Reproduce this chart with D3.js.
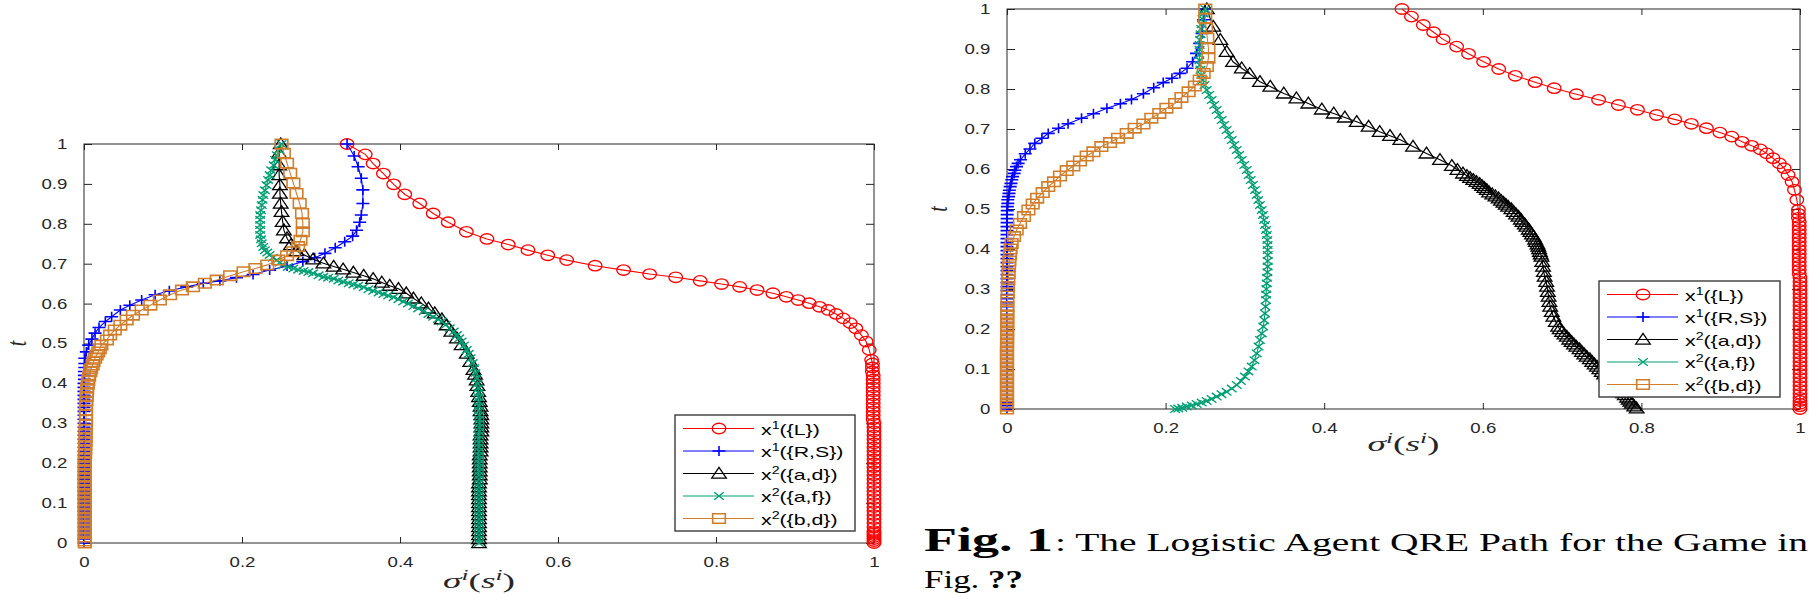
<!DOCTYPE html>
<html>
<head>
<meta charset="utf-8">
<script src="https://cdn.jsdelivr.net/npm/d3@7"></script>
<style>
  html, body { margin: 0; padding: 0; background: #fff; }
  svg { display: block; }
</style>
</head>
<body>
<svg id="chart" width="1811" height="594"></svg>
<script>
// Axis ticks
const xTicks = [0, 0.2, 0.4, 0.6, 0.8, 1]
const yTicks = [0, 0.1, 0.2, 0.3, 0.4, 0.5, 0.6, 0.7, 0.8, 0.9, 1]

// Legend entries: player (superscript) and strategy set
const seriesPlayer = ['1', '1', '2', '2', '2']
const seriesSets = ['({L})', '({R,S})', '({a,d})', '({a,f})', '({b,d})']
const seriesColors = ['#ff0000', '#0000ff', '#000000', '#009e73', '#d07e2c']
const seriesMarkers = ['circle', 'plus', 'triangle', 'cross', 'square']

// Left panel, [sigma, t] pairs
const leftL = [[0.333,1],[0.356,0.974],[0.366,0.951],[0.379,0.926],[0.392,0.899],[0.406,0.874],[0.425,0.851],[0.442,0.826],[0.461,0.804],[0.484,0.78],[0.51,0.762],[0.537,0.748],[0.562,0.734],[0.587,0.721],[0.611,0.709],[0.647,0.695],[0.683,0.684],[0.716,0.674],[0.749,0.666],[0.78,0.657],[0.807,0.649],[0.83,0.642],[0.852,0.634],[0.872,0.626],[0.889,0.617],[0.904,0.609],[0.918,0.601],[0.931,0.592],[0.942,0.584],[0.952,0.574],[0.961,0.563],[0.97,0.551],[0.977,0.538],[0.984,0.521],[0.99,0.505],[0.994,0.484],[0.997,0.459],
  [0.998,0.45],[0.998,0.44],[0.998,0.43],[0.999,0.42],[0.999,0.41],[0.999,0.4],[0.999,0.39],[0.999,0.38],[0.999,0.37],[0.999,0.36],[0.999,0.35],[0.999,0.34],[0.999,0.33],[0.999,0.32],[0.999,0.31],[1,0.3],[1,0.29],[1,0.28],[1,0.27],[1,0.26],[1,0.25],[1,0.24],[1,0.23],[1,0.22],[1,0.21],[1,0.2],[1,0.19],[1,0.18],[1,0.17],[1,0.16],[1,0.15],[1,0.14],[1,0.13],[1,0.12],[1,0.11],[1,0.1],[1,0.09],[1,0.08],[1,0.07],[1,0.06],[1,0.05],[1,0.04],[1,0.03],[1,0.025],[1,0.02],[1,0.015],[1,0.01],[1,0.005],[1,0]]
const leftRS = [[0.333,1],[0.342,0.97],[0.347,0.943],[0.351,0.914],[0.353,0.885],[0.353,0.851],[0.351,0.822],[0.349,0.804],[0.345,0.784],[0.34,0.769],[0.33,0.755],[0.318,0.74],[0.305,0.726],[0.292,0.715],[0.277,0.705],[0.257,0.694],[0.235,0.684],[0.214,0.673],[0.193,0.665],[0.172,0.657],[0.151,0.651],[0.13,0.642],[0.108,0.632],[0.09,0.622],[0.073,0.609],[0.058,0.596],[0.046,0.584],[0.035,0.567],[0.027,0.555],[0.019,0.54],[0.014,0.526],[0.01,0.511],[0.006,0.496],[0.003,0.479],[0.001,0.463],
  [0.001,0.45],[0.001,0.44],[0.0005,0.43],[0.0005,0.42],[0.0005,0.41],[0,0.4],[0,0.39],[0,0.38],[0,0.37],[0,0.36],[0,0.35],[0,0.34],[0,0.33],[0,0.32],[0,0.31],[0,0.3],[0,0.29],[0,0.28],[0,0.27],[0,0.26],[0,0.25],[0,0.24],[0,0.23],[0,0.22],[0,0.21],[0,0.2],[0,0.19],[0,0.18],[0,0.17],[0,0.16],[0,0.15],[0,0.14],[0,0.13],[0,0.12],[0,0.11],[0,0.1],[0,0.09],[0,0.08],[0,0.07],[0,0.06],[0,0.05],[0,0.04],[0,0.03],[0,0.02],[0,0.01],[0,0]]
const leftAD = [[0.249,1],[0.247,0.977],[0.247,0.947],[0.247,0.922],[0.248,0.897],[0.248,0.876],[0.249,0.851],[0.25,0.83],[0.2515,0.805],[0.253,0.784],[0.257,0.764],[0.262,0.747],[0.269,0.732],[0.279,0.722],[0.29,0.711],[0.303,0.701],[0.316,0.693],[0.328,0.686],[0.341,0.678],[0.354,0.67],[0.366,0.662],[0.377,0.653],[0.387,0.645],[0.398,0.637],[0.408,0.626],[0.417,0.613],[0.427,0.601],[0.436,0.588],[0.444,0.576],[0.453,0.561],[0.459,0.546],[0.465,0.53],[0.472,0.513],[0.478,0.496],[0.4845,0.475],[0.489,0.454],[0.493,0.434],
  [0.495,0.422],[0.497,0.408],[0.498,0.394],[0.499,0.379],[0.5,0.366],[0.501,0.354],[0.502,0.342],[0.502,0.331],[0.503,0.321],[0.503,0.31],[0.503,0.3],[0.503,0.29],[0.503,0.28],[0.502,0.27],[0.502,0.26],[0.502,0.25],[0.502,0.24],[0.502,0.23],[0.501,0.22],[0.501,0.21],[0.501,0.2],[0.501,0.19],[0.501,0.18],[0.501,0.17],[0.501,0.16],[0.5,0.15],[0.5,0.14],[0.5,0.13],[0.5,0.12],[0.5,0.11],[0.5,0.1],[0.5,0.09],[0.5,0.08],[0.5,0.07],[0.5,0.06],[0.5,0.05],[0.5,0.04],[0.5,0.03],[0.5,0.02],[0.5,0.01],[0.5,0]]
const leftAF = [[0.25,1],[0.247,0.986],[0.244,0.972],[0.242,0.96],[0.24,0.947],[0.237,0.934],[0.235,0.922],[0.233,0.91],[0.231,0.897],[0.229,0.884],[0.227,0.872],[0.226,0.86],[0.225,0.847],[0.224,0.834],[0.223,0.822],[0.223,0.81],[0.223,0.797],[0.223,0.785],[0.223,0.772],[0.224,0.761],[0.225,0.751],[0.227,0.742],[0.229,0.734],[0.232,0.728],[0.235,0.722],[0.239,0.715],[0.244,0.709],[0.248,0.703],[0.252,0.697],[0.258,0.692],[0.265,0.688],[0.271,0.685],[0.278,0.682],[0.284,0.679],[0.29,0.676],[0.297,0.671],[0.303,0.667],[0.309,0.665],[0.316,0.662],[0.322,0.658],[0.328,0.655],[0.335,0.651],[0.341,0.648],[0.347,0.645],[0.354,0.641],[0.36,0.636],[0.366,0.632],[0.373,0.628],[0.379,0.624],[0.385,0.62],[0.392,0.616],[0.398,0.611],[0.404,0.605],[0.41,0.6],[0.417,0.594],[0.423,0.588],[0.43,0.581],[0.436,0.574],[0.442,0.567],[0.448,0.561],[0.453,0.555],[0.458,0.547],[0.463,0.538],[0.468,0.53],[0.472,0.521],[0.475,0.513],[0.478,0.505],[0.481,0.495],[0.4845,0.484],[0.487,0.474],[0.4895,0.463],[0.492,0.451],[0.494,0.438],[0.4955,0.426],[0.497,0.413],[0.498,0.4],[0.499,0.388],[0.4995,0.376],[0.5,0.365],[0.5,0.354],
  [0.5,0.343],[0.5,0.332],[0.5005,0.32],[0.5005,0.31],[0.5005,0.3],[0.5005,0.29],[0.5005,0.28],[0.5,0.27],[0.5,0.26],[0.5,0.25],[0.5,0.24],[0.5,0.23],[0.5,0.22],[0.5,0.21],[0.5,0.2],[0.5,0.19],[0.5,0.18],[0.5,0.17],[0.5,0.16],[0.5,0.15],[0.5,0.14],[0.5,0.13],[0.5,0.12],[0.5,0.11],[0.5,0.1],[0.5,0.09],[0.5,0.08],[0.5,0.07],[0.5,0.06],[0.5,0.05],[0.5,0.04],[0.5,0.03],[0.5,0.02],[0.5,0.01],[0.5,0]]
const leftBD = [[0.25,1],[0.253,0.977],[0.257,0.952],[0.261,0.927],[0.265,0.902],[0.269,0.876],[0.273,0.851],[0.276,0.826],[0.277,0.801],[0.277,0.78],[0.274,0.759],[0.271,0.743],[0.265,0.73],[0.257,0.72],[0.246,0.709],[0.232,0.697],[0.217,0.688],[0.202,0.68],[0.185,0.67],[0.168,0.659],[0.153,0.651],[0.138,0.642],[0.124,0.634],[0.109,0.622],[0.096,0.609],[0.084,0.596],[0.073,0.584],[0.062,0.571],[0.054,0.559],[0.046,0.546],[0.039,0.534],[0.033,0.521],[0.029,0.509],[0.022,0.496],[0.02,0.487],[0.018,0.479],[0.016,0.471],[0.014,0.463],[0.012,0.454],[0.011,0.446],[0.009,0.437],[0.008,0.429],[0.0065,0.418],[0.0055,0.408],[0.0048,0.398],[0.004,0.388],[0.0037,0.377],[0.0034,0.367],[0.003,0.356],[0.0025,0.346],[0.0025,0.333],[0.0025,0.321],[0.0025,0.308],[0.0025,0.296],
  [0.002,0.285],[0.002,0.275],[0.002,0.265],[0.002,0.255],[0.0015,0.245],[0.0015,0.235],[0.0015,0.225],[0.001,0.215],[0.001,0.205],[0.001,0.195],[0.001,0.185],[0.001,0.175],[0.001,0.165],[0.001,0.155],[0.001,0.145],[0.001,0.135],[0.001,0.125],[0.001,0.115],[0.001,0.105],[0.001,0.095],[0.001,0.085],[0.001,0.075],[0.001,0.065],[0.001,0.055],[0.001,0.045],[0.001,0.035],[0.001,0.025],[0.001,0.015],[0.001,0.005],[0.001,0]]

// Right panel
const rightL = [[0.498,1],[0.51,0.981],[0.525,0.96],[0.538,0.942],[0.55,0.924],[0.567,0.906],[0.582,0.888],[0.601,0.868],[0.62,0.85],[0.641,0.833],[0.666,0.817],[0.69,0.802],[0.718,0.787],[0.746,0.773],[0.771,0.76],[0.795,0.748],[0.819,0.735],[0.842,0.724],[0.863,0.713],[0.882,0.702],[0.899,0.691],[0.914,0.681],[0.927,0.668],[0.939,0.658],[0.95,0.649],[0.958,0.639],[0.966,0.627],[0.974,0.614],[0.98,0.602],[0.985,0.585],[0.99,0.568],[0.993,0.548],[0.996,0.523],[0.998,0.498],
  [0.998,0.488],[0.998,0.478],[0.999,0.468],[0.999,0.458],[0.999,0.448],[0.999,0.438],[0.999,0.428],[0.999,0.418],[0.999,0.408],[0.999,0.398],[0.999,0.388],[0.999,0.378],[0.999,0.368],[0.999,0.358],[0.999,0.348],[0.999,0.338],[1,0.328],[1,0.318],[1,0.308],[1,0.298],[1,0.288],[1,0.278],[1,0.268],[1,0.258],[1,0.248],[1,0.238],[1,0.228],[1,0.218],[1,0.208],[1,0.198],[1,0.188],[1,0.178],[1,0.168],[1,0.158],[1,0.148],[1,0.138],[1,0.128],[1,0.118],[1,0.108],[1,0.098],[1,0.088],[1,0.078],[1,0.068],[1,0.058],[1,0.048],[1,0.038],[1,0.028],[1,0.02],[1,0.013],[1,0.007],[1,0]]
const rightRS = [[0.25,1],[0.248,0.973],[0.246,0.939],[0.243,0.914],[0.239,0.889],[0.234,0.868],[0.227,0.852],[0.218,0.839],[0.208,0.827],[0.197,0.816],[0.185,0.803],[0.172,0.788],[0.157,0.774],[0.143,0.763],[0.126,0.752],[0.109,0.738],[0.094,0.727],[0.077,0.713],[0.065,0.702],[0.052,0.689],[0.044,0.677],[0.035,0.664],[0.029,0.65],[0.023,0.638],[0.017,0.623],[0.014,0.614],[0.012,0.606],[0.01,0.597],[0.009,0.589],[0.007,0.581],[0.006,0.573],[0.005,0.564],[0.004,0.556],[0.003,0.547],[0.0025,0.539],[0.002,0.531],[0.001,0.523],[0.001,0.514],[0.0004,0.506],
  [0.0003,0.496],[0.0002,0.486],[0.0002,0.476],[0.0001,0.466],[0,0.456],[0,0.446],[0,0.436],[0,0.426],[0,0.416],[0,0.406],[0,0.396],[0,0.386],[0,0.376],[0,0.366],[0,0.356],[0,0.346],[0,0.336],[0,0.326],[0,0.316],[0,0.306],[0,0.296],[0,0.286],[0,0.276],[0,0.266],[0,0.256],[0,0.246],[0,0.236],[0,0.226],[0,0.216],[0,0.206],[0,0.196],[0,0.186],[0,0.176],[0,0.166],[0,0.156],[0,0.146],[0,0.136],[0,0.126],[0,0.116],[0,0.106],[0,0.096],[0,0.086],[0,0.076],[0,0.066],[0,0.056],[0,0.046],[0,0.036],[0,0.026],[0,0.016],[0,0.008],[0,0]]
const rightAD = [[0.252,1],[0.26,0.956],[0.269,0.923],[0.277,0.893],[0.285,0.868],[0.296,0.852],[0.306,0.838],[0.319,0.818],[0.332,0.806],[0.349,0.789],[0.365,0.777],[0.38,0.764],[0.397,0.749],[0.412,0.739],[0.426,0.729],[0.441,0.718],[0.456,0.706],[0.47,0.693],[0.483,0.683],[0.496,0.673],[0.512,0.656],[0.529,0.639],[0.546,0.623],[0.561,0.608],[0.568,0.598],[0.575,0.589],[0.58,0.583],[0.584,0.578],[0.588,0.573],[0.592,0.568],[0.596,0.563],[0.599,0.558],[0.602,0.553],[0.605,0.548],[0.608,0.542],[0.612,0.537],[0.616,0.532],[0.62,0.527],[0.623,0.521],[0.626,0.516],[0.629,0.511],[0.632,0.506],[0.636,0.5],[0.639,0.493],[0.642,0.487],[0.645,0.481],[0.648,0.474],[0.65,0.468],[0.653,0.462],[0.655,0.456],[0.658,0.449],[0.66,0.443],[0.662,0.437],[0.664,0.431],[0.666,0.424],[0.667,0.418],[0.669,0.412],[0.67,0.406],[0.671,0.4],[0.672,0.393],[0.673,0.387],[0.674,0.381],[0.675,0.368],[0.676,0.356],[0.677,0.343],[0.678,0.331],[0.68,0.318],[0.681,0.306],[0.682,0.293],[0.683,0.281],[0.684,0.268],[0.685,0.256],[0.687,0.243],[0.689,0.231],[0.692,0.218],[0.695,0.206],[0.697,0.2],[0.7,0.193],[0.703,0.187],[0.706,0.181],[0.709,0.174],[0.712,0.168],[0.715,0.162],[0.718,0.156],[0.722,0.15],[0.725,0.143],[0.728,0.137],[0.731,0.131],[0.735,0.125],[0.738,0.118],[0.741,0.112],[0.744,0.106],[0.747,0.1],[0.75,0.093],[0.753,0.087],[0.756,0.081],[0.76,0.075],[0.763,0.068],[0.766,0.062],[0.769,0.056],[0.772,0.05],[0.774,0.045],[0.777,0.04],[0.779,0.035],[0.782,0.029],[0.784,0.024],[0.786,0.019],[0.788,0.014],[0.791,0.007],[0.794,0.002]]
const rightAF = [[0.25,1],[0.248,0.989],[0.2465,0.975],[0.2455,0.962],[0.245,0.95],[0.244,0.937],[0.2434,0.9225],[0.243,0.91],[0.2428,0.898],[0.2425,0.885],[0.2427,0.872],[0.2432,0.86],[0.244,0.848],[0.2452,0.835],[0.2468,0.8225],[0.249,0.81],[0.2518,0.7975],[0.255,0.785],[0.2581,0.7725],[0.2612,0.76],[0.2644,0.7475],[0.2675,0.735],[0.2707,0.7225],[0.2738,0.71],[0.277,0.6975],[0.2802,0.685],[0.2834,0.6725],[0.2865,0.66],[0.2897,0.6475],[0.2928,0.635],[0.296,0.6225],[0.2992,0.61],[0.3023,0.5975],[0.3048,0.585],[0.3073,0.5725],[0.31,0.56],[0.3127,0.5475],[0.3148,0.535],[0.3169,0.5225],[0.319,0.51],[0.3212,0.4975],[0.3228,0.485],[0.3241,0.4725],[0.3254,0.46],[0.3266,0.4475],[0.3276,0.435],[0.3283,0.4225],[0.3286,0.41],[0.3287,0.3975],[0.3288,0.385],[0.3288,0.37],[0.3287,0.356],[0.3284,0.342],[0.328,0.328],[0.3275,0.314],[0.3271,0.3],[0.3268,0.286],[0.3266,0.2725],[0.326,0.256],[0.3253,0.239],[0.3244,0.222],[0.3232,0.206],[0.3213,0.189],[0.319,0.1725],[0.3172,0.156],[0.3149,0.139],[0.312,0.122],[0.3086,0.106],[0.3045,0.094],[0.3,0.081],[0.295,0.07],[0.2897,0.06],[0.2835,0.051],[0.277,0.043],[0.2705,0.037],[0.2644,0.031],[0.258,0.025],[0.2518,0.02],[0.2455,0.016],[0.2392,0.0125],[0.233,0.009],[0.2266,0.006],[0.221,0.003],[0.216,0.001],[0.212,0]]
const rightBD = [[0.25,1],[0.25,0.977],[0.251,0.952],[0.2526,0.927],[0.254,0.902],[0.254,0.877],[0.252,0.856],[0.248,0.839],[0.243,0.8225],[0.237,0.8075],[0.229,0.793],[0.22,0.779],[0.212,0.764],[0.201,0.752],[0.192,0.739],[0.182,0.727],[0.172,0.7125],[0.161,0.702],[0.151,0.689],[0.14,0.677],[0.13,0.666],[0.119,0.656],[0.109,0.643],[0.1005,0.6325],[0.092,0.62],[0.0836,0.6075],[0.0753,0.596],[0.0668,0.5825],[0.0593,0.568],[0.052,0.556],[0.045,0.541],[0.038,0.527],[0.0324,0.5125],[0.027,0.4975],[0.0214,0.481],[0.0164,0.464],[0.0122,0.4475],[0.0088,0.431],[0.0059,0.414],[0.0045,0.4],[0.0038,0.385],[0.003,0.37],[0.0025,0.355],[0.002,0.339],[0.0017,0.323],[0.0012,0.306],[0.001,0.29],[0.0006,0.273],[0.0004,0.256],
  [0.0003,0.245],[0.0003,0.235],[0.0003,0.225],[0.0002,0.215],[0.0002,0.205],[0.0002,0.195],[0.0001,0.185],[0.0001,0.175],[0.0001,0.165],[0,0.155],[0,0.145],[0,0.135],[0,0.125],[0,0.115],[0,0.105],[0,0.095],[0,0.085],[0,0.075],[0,0.065],[0,0.055],[0,0.045],[0,0.035],[0,0.025],[0,0.015],[0,0.007],[0,0]]

// Panel layout (pixel boxes) and legend boxes
const panels = [
  { box: [84, 874, 144, 543], series: [leftL, leftRS, leftAD, leftAF, leftBD], legend: [675, 415, 180, 116], yLabelX: 17, xLabelY: 588 },
  { box: [1007, 1800, 9, 409], series: [rightL, rightRS, rightAD, rightAF, rightBD], legend: [1599, 281, 181, 116], yLabelX: 938, xLabelY: 451 }
]

const axisColor = '#262626'
const sansFont = "'Liberation Sans', Arial, Helvetica, sans-serif"
const serifFont = "'Liberation Serif', 'Times New Roman', serif"
const stretch = 1.33 // glyphs in the figure are wider than they are tall

function markerPath (type) {
  switch (type) {
    case 'circle': return 'M-6.8,0A6.8,5.2 0 1,0 6.8,0A6.8,5.2 0 1,0 -6.8,0Z'
    case 'plus': return 'M-6.5,0H6.5M0,-5V5'
    case 'triangle': return 'M0,-6.2L7.3,4.6L-7.3,4.6Z'
    case 'cross': return 'M-4.8,-3.7L4.8,3.7M-4.8,3.7L4.8,-3.7'
    case 'square': return 'M-6.3,-4.7H6.3V4.7H-6.3Z'
  }
}
const markerWidth = { circle: 1.35, plus: 1.6, triangle: 1.3, cross: 1.4, square: 1.6 }

const svg = d3.select('#chart')

function styleAxis (g) {
  g.select('.domain').remove()
  g.attr('color', axisColor)
    .attr('font-family', sansFont)
    .attr('font-size', 14)
  g.selectAll('line').attr('stroke-width', 1)
  g.selectAll('text').attr('transform', `scale(${stretch},1)`)
}

panels.forEach(p => {
  const [x0, x1, y0, y1] = p.box
  const x = d3.scaleLinear().domain([0, 1]).range([x0, x1])
  const y = d3.scaleLinear().domain([0, 1]).range([y1, y0])
  const fmt = d => String(d)
  const g = svg.append('g')

  // box
  g.append('rect')
    .attr('x', x0).attr('y', y0)
    .attr('width', x1 - x0).attr('height', y1 - y0)
    .attr('fill', 'none').attr('stroke', axisColor).attr('stroke-width', 1)

  // inward ticks on all four sides
  g.append('g').attr('transform', `translate(0,${y1})`)
    .call(d3.axisBottom(x).tickValues(xTicks).tickFormat(fmt).tickSizeInner(-6).tickSizeOuter(0).tickPadding(14))
    .call(styleAxis)
  g.append('g').attr('transform', `translate(0,${y0})`)
    .call(d3.axisTop(x).tickValues(xTicks).tickFormat('').tickSizeInner(-6).tickSizeOuter(0))
    .call(styleAxis)
  g.append('g').attr('transform', `translate(${x0},0)`)
    .call(d3.axisLeft(y).tickValues(yTicks).tickFormat(fmt).tickSizeInner(-8).tickSizeOuter(0).tickPadding(12.5))
    .call(styleAxis)
  g.append('g').attr('transform', `translate(${x1},0)`)
    .call(d3.axisRight(y).tickValues(yTicks).tickFormat('').tickSizeInner(-8).tickSizeOuter(0))
    .call(styleAxis)

  // axis labels
  const xl = g.append('text')
    .attr('font-family', serifFont).attr('font-size', 22).attr('fill', axisColor)
  xl.append('tspan').attr('font-style', 'italic').text('σ')
  xl.append('tspan').attr('font-style', 'italic').attr('font-size', 15).attr('dy', -8).text('i')
  xl.append('tspan').attr('dy', 8).text('(')
  xl.append('tspan').attr('font-style', 'italic').text('s')
  xl.append('tspan').attr('font-style', 'italic').attr('font-size', 15).attr('dy', -8).text('i')
  xl.append('tspan').attr('dy', 8).text(')')
  const w = xl.node().getBBox().width
  const cx = (x0 + x1) / 2
  xl.attr('transform', `translate(${cx - 36},${p.xLabelY}) scale(${72 / w},1)`)

  g.append('text')
    .attr('transform', `translate(${p.yLabelX},${(y0 + y1) / 2}) scale(${stretch},1) rotate(-90)`)
    .attr('text-anchor', 'middle')
    .attr('dominant-baseline', 'central')
    .attr('font-family', serifFont).attr('font-style', 'italic')
    .attr('font-size', 20).attr('fill', axisColor)
    .text('t')

  // series: thin line plus a marker on every point
  const line = d3.line().x(d => x(d[0])).y(d => y(d[1]))
  p.series.forEach((data, i) => {
    const sg = g.append('g')
    sg.append('path')
      .attr('d', line(data))
      .attr('fill', 'none')
      .attr('stroke', seriesColors[i])
      .attr('stroke-width', 1.1)
    sg.selectAll('path.m')
      .data(data)
      .join('path')
      .attr('class', 'm')
      .attr('d', markerPath(seriesMarkers[i]))
      .attr('transform', d => `translate(${x(d[0])},${y(d[1])})`)
      .attr('fill', 'none')
      .attr('stroke', seriesColors[i])
      .attr('stroke-width', markerWidth[seriesMarkers[i]])
  })

  // legend
  const [lx, ly, lw, lh] = p.legend
  const lg = g.append('g')
  lg.append('rect')
    .attr('x', lx).attr('y', ly).attr('width', lw).attr('height', lh)
    .attr('fill', '#fff').attr('stroke', '#3a3a3a').attr('stroke-width', 1.4)
  seriesSets.forEach((s, i) => {
    const ry = ly + 13.5 + i * 22.5
    lg.append('line')
      .attr('x1', lx + 8).attr('x2', lx + 79)
      .attr('y1', ry).attr('y2', ry)
      .attr('stroke', seriesColors[i]).attr('stroke-width', 1)
    lg.append('path')
      .attr('d', markerPath(seriesMarkers[i]))
      .attr('transform', `translate(${lx + 44},${ry})`)
      .attr('fill', 'none')
      .attr('stroke', seriesColors[i])
      .attr('stroke-width', markerWidth[seriesMarkers[i]])
    const t = lg.append('text')
      .attr('transform', `translate(${lx + 86},${ry + 6}) scale(1.42,1)`)
      .attr('font-family', sansFont).attr('font-size', 15).attr('fill', '#000')
    t.append('tspan').text('x')
    t.append('tspan').attr('font-size', 10).attr('dy', -6).text(seriesPlayer[i])
    t.append('tspan').attr('dy', 6).text(s)
  })
})

// caption
svg.append('text')
  .attr('x', 924).attr('y', 551)
  .attr('font-family', serifFont).attr('font-weight', 'bold').attr('font-size', 33)
  .attr('textLength', 129).attr('lengthAdjust', 'spacingAndGlyphs')
  .text('Fig. 1')
svg.append('text')
  .attr('x', 1055).attr('y', 551)
  .attr('font-family', serifFont).attr('font-size', 26)
  .attr('textLength', 753).attr('lengthAdjust', 'spacingAndGlyphs')
  .text(': The Logistic Agent QRE Path for the Game in')
const cap2 = svg.append('text')
  .attr('x', 924).attr('y', 588)
  .attr('font-family', serifFont).attr('font-size', 26)
  .attr('textLength', 99).attr('lengthAdjust', 'spacingAndGlyphs')
cap2.append('tspan').text('Fig. ')
cap2.append('tspan').attr('font-weight', 'bold').text('??')
</script>
</body>
</html>
